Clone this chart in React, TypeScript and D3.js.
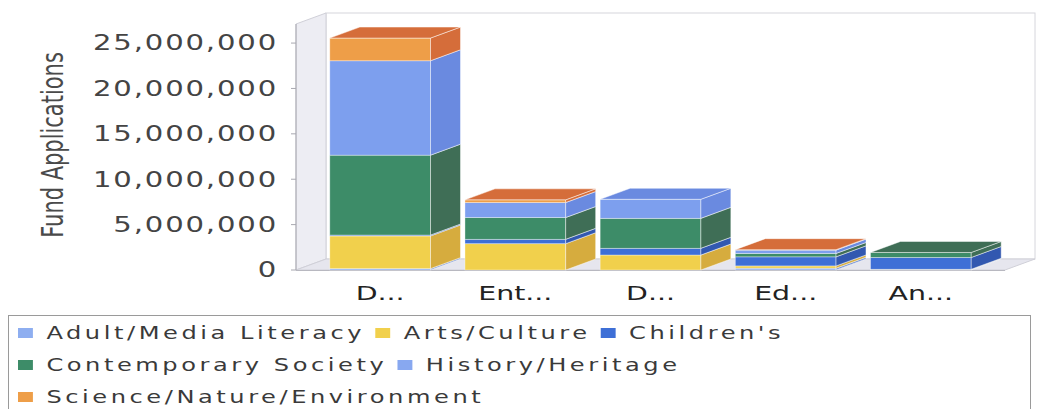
import React from 'react';
import * as d3 from 'd3';

const categories = ['D...', 'Ent...', 'D...', 'Ed...', 'An...'];
const seriesNames = [
  'Adult/Media Literacy',
  'Arts/Culture',
  "Children's",
  'Contemporary Society',
  'History/Heritage',
  'Science/Nature/Environment',
];
const adultMedia = [150000, 0, 0, 200000, 50000];
const artsCulture = [3600000, 2900000, 1650000, 250000, 30000];
const childrens = [100000, 480000, 740000, 1000000, 1300000];
const contemporary = [8800000, 2400000, 3300000, 370000, 550000];
const history = [10400000, 1650000, 2100000, 370000, 0];
const science = [2500000, 300000, 0, 50000, 0];
const yTicks = [0, 5000000, 10000000, 15000000, 20000000, 25000000];

const colors = ['#8eaef0', '#f1d04c', '#3e6fd6', '#3d8c68', '#7d9fee', '#ee9e48'];
const topColors = ['#7592d6', '#d6ac3e', '#3258b0', '#3f6e56', '#6a8ae0', '#d56d3a'];

const W = 1045;
const H = 409;
const DX = 30;
const DY = -11;
const SX = 1.42; // horizontal stretch of the text

function drawChart(svgEl: SVGSVGElement) {
  const svg = d3.select(svgEl);
  svg.selectAll('*').remove();

  const values = [adultMedia, artsCulture, childrens, contemporary, history, science];
  const rows = categories.map((c, i) => {
    const r: any = { idx: i };
    seriesNames.forEach((s, k) => (r[s] = values[k][i]));
    return r;
  });
  const stacked = d3.stack<any>().keys(seriesNames)(rows);

  const x = d3
    .scaleBand<number>()
    .domain(d3.range(categories.length))
    .range([296, 1005])
    .paddingInner(0.255)
    .paddingOuter(0.25);
  const y = d3.scaleLinear([0, 27100000], [270, 24]);

  const left = 296;
  const right = 1005;
  const bottom = y(0);
  const top = y.range()[1];

  // back wall
  svg
    .append('rect')
    .attr('x', left + DX)
    .attr('y', top + DY)
    .attr('width', right - left)
    .attr('height', bottom - top)
    .attr('fill', '#fff')
    .attr('stroke', '#d6d6dc');
  // left wall
  svg
    .append('path')
    .attr('d', `M${left},${bottom}L${left},${top}L${left + DX},${top + DY}L${left + DX},${bottom + DY}Z`)
    .attr('fill', '#ededf3')
    .attr('stroke', '#d0d0d8');
  // floor
  svg
    .append('path')
    .attr('d', `M${left},${bottom}L${right},${bottom}L${right + DX},${bottom + DY}L${left + DX},${bottom + DY}Z`)
    .attr('fill', '#e6e6ee')
    .attr('stroke', '#d0d0d8');
  svg
    .append('line')
    .attr('x1', left)
    .attr('x2', left)
    .attr('y1', top)
    .attr('y2', bottom)
    .attr('stroke', '#a8a8b0');
  svg
    .append('line')
    .attr('x1', left)
    .attr('x2', right)
    .attr('y1', bottom + 0.5)
    .attr('y2', bottom + 0.5)
    .attr('stroke', '#b8b8c0');

  // y ticks
  const fmt = d3.format(',');
  const ty = svg.append('g');
  ty.selectAll('line')
    .data(yTicks)
    .enter()
    .append('line')
    .attr('x1', left - 5)
    .attr('x2', left)
    .attr('y1', (d) => y(d))
    .attr('y2', (d) => y(d))
    .attr('stroke', '#a8a8b0');
  ty.selectAll('g.lbl')
    .data(yTicks)
    .enter()
    .append('g')
    .attr('class', 'lbl')
    .attr('transform', (d) => `translate(278,${y(d)}) scale(${SX},1)`)
    .append('text')
    .attr('text-anchor', 'end')
    .attr('dy', '0.36em')
    .attr('font-family', 'DejaVu Sans')
    .attr('font-size', 20.5)
    .attr('letter-spacing', 1.3)
    .attr('fill', '#444')
    .text((d) => fmt(d));

  // y title
  svg
    .append('g')
    .attr('transform', `translate(63,145) scale(${SX},1) rotate(-90)`)
    .append('text')
    .attr('text-anchor', 'middle')
    .attr('font-family', 'DejaVu Sans')
    .attr('font-size', 21)
    .attr('fill', '#4a4a4a')
    .text('Fund Applications');

  // bars
  const bars = svg.append('g');
  categories.forEach((_, i) => {
    const x0 = x(i)!;
    const x1 = x0 + x.bandwidth();
    let topK = -1;
    stacked.forEach((s, k) => {
      if (s[i][1] - s[i][0] > 0) topK = k;
    });
    stacked.forEach((s, k) => {
      const v0 = s[i][0];
      const v1 = s[i][1];
      if (v1 - v0 <= 0) return;
      const ya = y(v0);
      const yb = y(v1);
      bars
        .append('rect')
        .attr('x', x0)
        .attr('y', yb)
        .attr('width', x1 - x0)
        .attr('height', ya - yb)
        .attr('fill', colors[k])
        .attr('stroke', 'rgba(255,255,255,0.45)')
        .attr('stroke-width', 0.8);
      bars
        .append('path')
        .attr('d', `M${x1},${ya}L${x1},${yb}L${x1 + DX},${yb + DY}L${x1 + DX},${ya + DY}Z`)
        .attr('fill', topColors[k])
        .attr('stroke', 'rgba(255,255,255,0.6)')
        .attr('stroke-width', 0.8);
      if (k === topK) {
        bars
          .append('path')
          .attr('d', `M${x0},${yb}L${x1},${yb}L${x1 + DX},${yb + DY}L${x0 + DX},${yb + DY}Z`)
          .attr('fill', topColors[k])
          .attr('stroke', 'rgba(255,255,255,0.6)')
          .attr('stroke-width', 0.8);
      }
    });
  });

  // x labels
  svg
    .append('g')
    .selectAll('g')
    .data(categories)
    .enter()
    .append('g')
    .attr('transform', (_, i) => `translate(${x(i)! + x.bandwidth() / 2},300) scale(${SX},1)`)
    .append('text')
    .attr('text-anchor', 'middle')
    .attr('font-family', 'DejaVu Sans')
    .attr('font-size', 20)
    .attr('fill', '#222')
    .text((d) => d);

  // legend
  svg
    .append('rect')
    .attr('x', 8.5)
    .attr('y', 315.5)
    .attr('width', 1022)
    .attr('height', 120)
    .attr('fill', '#fff')
    .attr('stroke', '#9a9a9a');

  const leg = svg.append('g');
  let cx = 18;
  let row = 0;
  seriesNames.forEach((name, k) => {
    const g = leg.append('g');
    g.append('rect')
      .attr('x', 0)
      .attr('y', -11)
      .attr('width', 10.5)
      .attr('height', 10)
      .attr('fill', colors[k] === '#7d9fee' ? '#88a8f0' : colors[k]);
    const t = g
      .append('text')
      .attr('x', 20)
      .attr('font-family', 'DejaVu Sans')
      .attr('font-size', 17)
      .attr('letter-spacing', 2.5)
      .attr('fill', '#3a3a3a')
      .text(name);
    const w = (20 + (t.node() as SVGTextElement).getComputedTextLength() + 7) * SX;
    if (cx + w > 1030 && cx > 18) {
      cx = 18;
      row += 1;
    }
    g.attr('transform', `translate(${cx},${339 + row * 32}) scale(${SX},1)`);
    cx += w;
  });
}

export default function App() {
  const ref = React.useRef<SVGSVGElement>(null);
  React.useEffect(() => {
    if (ref.current) drawChart(ref.current);
  }, []);
  return (
    <svg
      ref={ref}
      width={W}
      height={H}
      style={{ position: 'absolute', left: 0, top: 0, background: '#fff' }}
    />
  );
}
